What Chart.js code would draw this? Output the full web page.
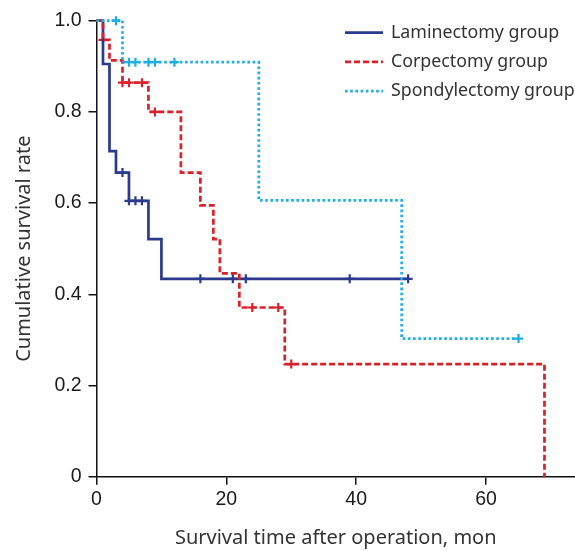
<!DOCTYPE html>
<html>
<head>
<meta charset="utf-8">
<script src="https://cdn.jsdelivr.net/npm/chart.js@4.4.0/dist/chart.umd.min.js"></script>
<style>
  html, body { margin: 0; padding: 0; background: #fff; }
  #wrap { width: 575px; height: 551px; }
</style>
</head>
<body>
<div id="wrap"><canvas id="km"></canvas></div>
<script>
// Kaplan-Meier steps (time in months, survival rate)
const lamTimes = [0, 1, 2, 3, 5, 8, 10, 48];
const lamSurv = [1, 0.905, 0.714, 0.667, 0.605, 0.521, 0.434, 0.434];
const lamCensor = [4, 5, 6, 7, 16, 21, 23, 39, 48];

const corTimes = [0, 1, 2, 4, 8, 13, 16, 18, 19, 22, 29, 69];
const corSurv = [1, 0.958, 0.913, 0.864, 0.800, 0.667, 0.595, 0.521, 0.446, 0.371, 0.247, 0];
const corCensor = [1, 4, 5, 7, 9, 24, 28, 30];

const spoTimes = [0, 4, 25, 47, 65];
const spoSurv = [1, 0.909, 0.606, 0.303, 0.303];
const spoCensor = [3, 5, 6, 8, 9, 12, 65];

const groupNames = ['Laminectomy group', 'Corpectomy group', 'Spondylectomy group'];
const yTicks = [0, 0.2, 0.4, 0.6, 0.8, 1.0];
const xTicks = [0, 20, 40, 60];

const NAVY = '#2c3a8e', RED = '#d8222b', CYAN = '#1eaee6';

function steps(times, surv) {
  return times.map((t, i) => ({x: t, y: surv[i]}));
}
// survival at time t taken from the step table
function survAt(times, surv, t) {
  let s = surv[0];
  for (let i = 0; i < times.length; i++) if (times[i] <= t) s = surv[i];
  return s;
}
function marks(times, surv, cens) {
  return cens.map(t => ({x: t, y: survAt(times, surv, t)}));
}

function curve(label, data, color, dash) {
  return {
    type: 'line', label, data, stepped: 'before',
    borderColor: color, borderWidth: 2.7, borderDash: dash,
    pointRadius: 0, fill: false, clip: false, tension: 0
  };
}
function censor(data, color) {
  return {
    type: 'scatter', label: '', data, showLine: false,
    pointStyle: 'cross', pointRadius: 4.5, pointBorderWidth: 2.2,
    borderColor: color, backgroundColor: color, clip: false
  };
}

const datasets = [
  curve(groupNames[2], steps(spoTimes, spoSurv), CYAN, [2.6, 2.6]),
  curve(groupNames[1], steps(corTimes, corSurv), RED, [6, 3]),
  curve(groupNames[0], steps(lamTimes, lamSurv), NAVY, []),
  censor(marks(spoTimes, spoSurv, spoCensor), CYAN),
  censor(marks(corTimes, corSurv, corCensor), RED),
  censor(marks(lamTimes, lamSurv, lamCensor), NAVY)
];

const legendItems = [
  {name: groupNames[0], color: NAVY, dash: []},
  {name: groupNames[1], color: RED, dash: [6, 3]},
  {name: groupNames[2], color: CYAN, dash: [2.6, 2.6]}
];

const keyPlugin = {
  id: 'key',
  afterDraw(chart) {
    const ctx = chart.ctx;
    const r = chart.chartArea.right;
    ctx.save();
    ctx.font = '17.8px "Noto Sans"';
    ctx.textBaseline = 'middle';
    legendItems.forEach((it, i) => {
      const y = chart.chartArea.top + 12 + i * 29.2;
      ctx.beginPath();
      ctx.setLineDash(it.dash);
      ctx.strokeStyle = it.color;
      ctx.lineWidth = 2.7;
      ctx.moveTo(r - 230, y);
      ctx.lineTo(r - 192, y);
      ctx.stroke();
      ctx.setLineDash([]);
      ctx.fillStyle = '#333';
      ctx.fillText(it.name, r - 184, y);
    });
    ctx.restore();
  }
};

const tickFont = {family: '"Liberation Sans", Arial, sans-serif', size: 19.5};
const titleFont = {family: '"Noto Sans", sans-serif', size: 20};

new Chart(document.getElementById('km'), {
  data: {datasets},
  options: {
    responsive: true,
    maintainAspectRatio: false,
    animation: false,
    layout: {autoPadding: false, padding: {top: 20.7, right: 0, left: 0, bottom: 0}},
    plugins: {legend: {display: false}, tooltip: {enabled: false}},
    scales: {
      x: {
        type: 'linear', min: 0, max: 73.7,
        afterFit(s) { s.height = 74.3; s.paddingLeft = 0; s.paddingRight = 0; },
        afterBuildTicks(s) { s.ticks = xTicks.map(v => ({value: v})); },
        border: {display: true, color: '#111', width: 1.5},
        grid: {display: true, drawOnChartArea: false, drawTicks: true, tickLength: 8, color: '#111', lineWidth: 1.5},
        ticks: {font: tickFont, color: '#1a1a1a', padding: 3, maxRotation: 0},
        title: {display: true, text: 'Survival time after operation, mon', font: titleFont, color: '#333', padding: {top: 0, bottom: 1}}
      },
      y: {
        type: 'linear', min: 0, max: 1,
        afterFit(s) { s.width = 96.5; },
        afterBuildTicks(s) { s.ticks = yTicks.map(v => ({value: v})); },
        border: {display: true, color: '#111', width: 1.5},
        grid: {display: true, drawOnChartArea: false, drawTicks: true, tickLength: 8, color: '#111', lineWidth: 1.5},
        ticks: {font: tickFont, color: '#1a1a1a', padding: 7,
          callback: v => v === 0 ? '0' : v.toFixed(1)},
        title: {display: true, text: 'Cumulative survival rate', font: titleFont, color: '#333', padding: {top: 12, bottom: 0}}
      }
    }
  },
  plugins: [keyPlugin]
});
</script>
</body>
</html>
